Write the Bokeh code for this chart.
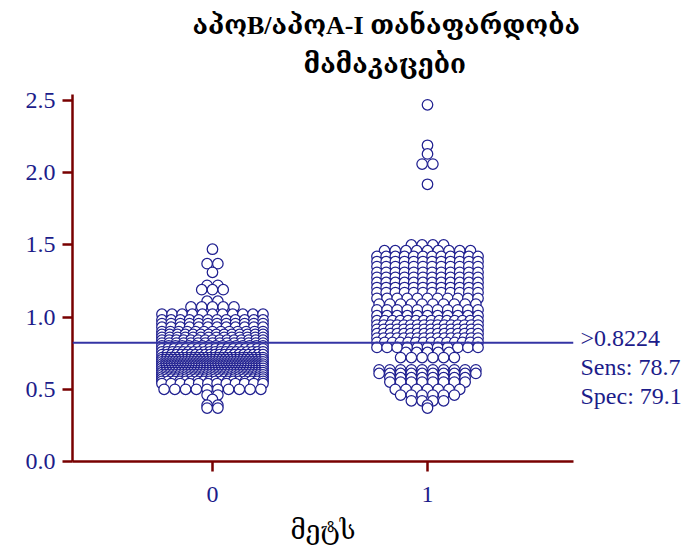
from bokeh.plotting import figure
from bokeh.models import (Range1d, Span, Title, FixedTicker, PrintfTickFormatter,
                          ColumnDataSource, LinearAxis)
from bokeh.embed import file_html
from bokeh.resources import INLINE

# ---------------- data ----------------
categories = [0, 1]
title_line1 = "აპოB/აპოA-I თანაფარდობა"
title_line2 = "მამაკაცები"
x_label = "მეტს"
cutoff = 0.8224
sens = 78.7
spec = 79.1

# group 0: value rows (level) and the number of points in each row
g0_levels = [1.47, 1.37, 1.31, 1.22, 1.19, 1.11, 1.07,
             1.02, 0.98, 0.955, 0.93, 0.90, 0.88, 0.86, 0.84, 0.82, 0.80, 0.78,
             0.76, 0.74, 0.72, 0.705, 0.69, 0.675, 0.66, 0.645, 0.63, 0.615,
             0.60, 0.585, 0.57, 0.555, 0.54, 0.50, 0.46, 0.43, 0.39, 0.37]
g0_counts = [1, 2, 1, 2, 3, 2, 5,
             11, 12, 12, 12, 13, 14, 14, 15, 15, 16, 18,
             20, 22, 26, 30, 34, 36, 38, 38, 36, 34,
             30, 26, 22, 18, 12, 10, 2, 1, 2, 2]

# group 1
g1_levels = [2.47, 2.19, 2.13, 2.06, 1.92,
             1.50, 1.46, 1.42, 1.385, 1.35, 1.31, 1.275, 1.24, 1.205, 1.17,
             1.13, 1.09, 1.05, 1.01, 0.975, 0.945, 0.915, 0.885, 0.855, 0.825,
             0.79, 0.755, 0.72, 0.635, 0.61, 0.58, 0.55, 0.50, 0.46, 0.42, 0.39, 0.37]
g1_counts = [1, 1, 1, 2, 1,
             4, 9, 12, 12, 12, 12, 12, 12, 12, 12,
             11, 10, 11, 11, 14, 16, 16, 16, 16, 14,
             11, 5, 6, 10, 10, 8, 8, 7, 6, 4, 1, 1]

# label rows on the right (y positions of the three annotation lines)
note_y = [0.852, 0.652, 0.452]
note_text = [">" + str(cutoff), "Sens: %.1f" % sens, "Spec: %.1f" % spec]

# ---------------- layout of the dots ----------------
MARK_D = 0.050      # marker diameter in x data units
HALF_W = 0.235      # half width of the dot column

def place(center, levels, counts):
    xs, ys = [], []
    for v, n in zip(levels, counts):
        step = 0 if n == 1 else min(MARK_D, 2 * HALF_W / (n - 1))
        for i in range(n):
            xs.append(center + (i - (n - 1) / 2) * step)
            ys.append(v)
    return xs, ys

x0, y0 = place(categories[0], g0_levels, g0_counts)
x1, y1 = place(categories[1], g1_levels, g1_counts)
src = ColumnDataSource(dict(x=x0 + x1, y=y0 + y1))

# ---------------- figure ----------------
SERIF = "Liberation Serif, DejaVu Serif, DejaVu Sans"
NAVY = "#1c1c8a"
AXIS = "#780000"

p = figure(width=690, height=554, output_backend="svg", toolbar_location=None,
           x_range=Range1d(-0.651, 1.679), y_range=Range1d(0, 2.5416),
           min_border_left=72, min_border_right=117, min_border_top=94, min_border_bottom=93,
           title=None)
p.outline_line_color = None
p.grid.visible = False

p.scatter("x", "y", source=src, size=10.5, marker="circle",
          fill_color="white", line_color="#202090", line_width=1.25)

p.add_layout(Span(location=cutoff, dimension="width", line_color="#3434a4", line_width=2))

for ax in (p.xaxis[0], p.yaxis[0]):
    ax.axis_line_color = AXIS
    ax.axis_line_width = 2.5
    ax.major_tick_line_color = AXIS
    ax.major_tick_line_width = 2.5
    ax.major_tick_out = 10
    ax.major_tick_in = 0
    ax.minor_tick_line_color = None
    ax.major_label_text_color = NAVY
    ax.major_label_text_font = SERIF
    ax.major_label_text_font_size = "24px"

p.xaxis.ticker = FixedTicker(ticks=categories)
p.yaxis.ticker = FixedTicker(ticks=[0, 0.5, 1.0, 1.5, 2.0, 2.5])
p.yaxis.formatter = PrintfTickFormatter(format="%.1f")
p.yaxis.major_label_standoff = 7
p.xaxis.major_label_standoff = 15
p.xaxis.axis_label = x_label
p.xaxis.axis_label_text_font = SERIF
p.xaxis.axis_label_text_font_size = "26px"
p.xaxis.axis_label_text_font_style = "normal"
p.xaxis.axis_label_text_color = "black"
p.xaxis.axis_label_standoff = 11

# right-hand annotation texts, as an unlined axis
right = LinearAxis(ticker=FixedTicker(ticks=note_y),
                   major_label_overrides={y: t for y, t in zip(note_y, note_text)})
right.axis_line_color = None
right.major_tick_line_color = None
right.minor_tick_line_color = None
right.major_tick_out = 0
right.major_tick_in = 0
right.major_label_standoff = 7
right.major_label_text_color = NAVY
right.major_label_text_font = SERIF
right.major_label_text_font_size = "24px"
p.add_layout(right, "right")

p.add_layout(Title(text=title_line2, align="left", offset=231, text_font=SERIF,
                   text_font_size="26px", text_font_style="bold", text_color="black",
                   standoff=32), "above")
p.add_layout(Title(text=title_line1, align="left", offset=120, text_font=SERIF,
                   text_font_size="26px", text_font_style="bold", text_color="black",
                   standoff=-16), "above")

open("out.html", "w").write(file_html(p, INLINE))
